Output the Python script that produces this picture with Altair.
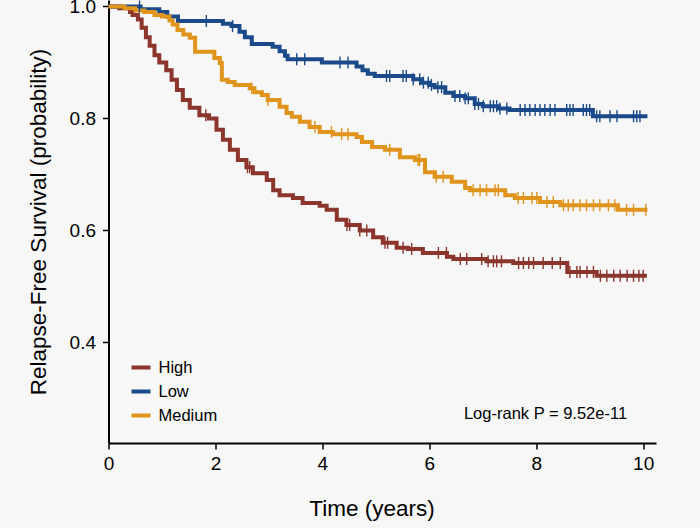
import altair as alt
import pandas as pd

groups = ["High", "Low", "Medium"]
colors = ["#8B352C", "#1B4A8B", "#E0941C"]

# Step functions (time in years, survival probability)
high_t = [0, 0.2, 0.4, 0.45, 0.55, 0.62, 0.7, 0.77, 0.86, 0.95, 1.08, 1.18, 1.28, 1.39, 1.52, 1.7, 1.88,
          2.02, 2.14, 2.27, 2.42, 2.58, 2.7, 2.96, 3.08, 3.2, 3.45, 3.63, 3.95, 4.08, 4.27, 4.45, 4.7,
          4.95, 5.13, 5.39, 5.6, 5.88, 6.33, 6.45, 7.07, 7.57, 8.58, 9.13, 10.07]
high_s = [1.0, 0.997, 0.99, 0.985, 0.977, 0.962, 0.945, 0.93, 0.913, 0.9, 0.886, 0.869, 0.851, 0.833, 0.819, 0.806, 0.8,
          0.78, 0.762, 0.744, 0.726, 0.713, 0.702, 0.69, 0.672, 0.663, 0.658, 0.649, 0.644, 0.637, 0.619, 0.61, 0.6,
          0.588, 0.578, 0.569, 0.567, 0.56, 0.553, 0.549, 0.545, 0.542, 0.526, 0.519, 0.519]

low_t = [0, 0.6, 0.95, 1.1, 1.3, 2.14, 2.3, 2.45, 2.55, 2.68, 3.07, 3.2, 3.3, 3.35, 3.99, 4.64, 4.75, 4.85,
         4.98, 5.7, 5.85, 6.0, 6.1, 6.3, 6.45, 6.67, 6.85, 7.0, 7.3, 7.5, 9.06, 10.08]
low_s = [1.0, 0.995, 0.99, 0.982, 0.974, 0.969, 0.965, 0.955, 0.945, 0.933, 0.928, 0.92, 0.912, 0.906, 0.9, 0.893, 0.886, 0.88,
         0.876, 0.87, 0.864, 0.86, 0.856, 0.846, 0.84, 0.836, 0.826, 0.822, 0.818, 0.815, 0.804, 0.804]

med_t = [0, 0.3, 0.5, 0.67, 0.86, 1.0, 1.14, 1.2, 1.29, 1.4, 1.52, 1.62, 1.98, 2.08, 2.12, 2.23, 2.36, 2.64,
         2.73, 2.87, 2.98, 3.2, 3.33, 3.43, 3.58, 3.76, 3.95, 4.2, 4.64, 4.74, 4.93, 5.17, 5.45, 5.73, 5.92,
         6.1, 6.42, 6.67, 6.76, 7.42, 7.6, 8.07, 8.45, 9.53, 10.08]
med_s = [1.0, 0.997, 0.993, 0.99, 0.985, 0.982, 0.975, 0.968, 0.958, 0.95, 0.944, 0.919, 0.908, 0.899, 0.869, 0.865, 0.86, 0.854,
         0.847, 0.842, 0.833, 0.821, 0.81, 0.803, 0.794, 0.785, 0.776, 0.772, 0.767, 0.758, 0.749, 0.744, 0.731, 0.726, 0.704,
         0.696, 0.687, 0.676, 0.672, 0.663, 0.658, 0.651, 0.645, 0.637, 0.637]

# Censoring times
high_c = [1.82, 2.6, 2.64, 4.46, 4.51, 4.7, 4.83, 5.17, 5.22, 5.51, 5.67, 6.17, 6.32, 6.58, 6.7, 6.98, 7.1, 7.2,
          7.26, 7.35, 7.67, 7.76, 7.86, 7.95, 8.13, 8.3, 8.45, 8.63, 8.76, 8.82, 8.95, 9.07, 9.2, 9.32, 9.45,
          9.57, 9.7, 9.82, 9.92, 10.0]
low_c = [0.58, 1.83, 2.32, 3.52, 3.67, 4.33, 4.48, 5.2, 5.26, 5.51, 5.57, 5.7, 5.82, 5.89, 5.98, 6.04, 6.16,
         6.23, 6.48, 6.57, 6.67, 6.73, 6.85, 6.92, 7.01, 7.14, 7.2, 7.26, 7.32, 7.45, 7.7, 7.79, 7.88, 7.98,
         8.07, 8.16, 8.26, 8.35, 8.57, 8.63, 8.69, 8.88, 8.94, 9.0, 9.13, 9.19, 9.38, 9.51, 9.82, 9.88, 9.94]
med_c = [2.11, 2.68, 2.98, 3.86, 4.17, 4.36, 4.48, 5.26, 5.79, 5.82, 6.13, 6.26, 6.82, 6.95, 7.07, 7.23, 7.29,
         7.66, 7.76, 7.92, 8.01, 8.2, 8.32, 8.51, 8.6, 8.69, 8.82, 8.94, 9.07, 9.19, 9.35, 9.47, 9.69, 9.82, 10.05]

annotation = "Log-rank P = 9.52e-11"
x_title = "Time (years)"
y_title = "Relapse-Free Survival (probability)"

series = {"High": (high_t, high_s, high_c), "Low": (low_t, low_s, low_c), "Medium": (med_t, med_s, med_c)}

line_rows, cens_rows = [], []
for g, (ts, ss, cs) in series.items():
    for t, s in zip(ts, ss):
        line_rows.append({"group": g, "time": t, "surv": s})
    for c in cs:
        s_at = ss[0]
        for t, s in zip(ts, ss):
            if t <= c:
                s_at = s
        cens_rows.append({"group": g, "time": c, "surv": s_at})

lines_df = pd.DataFrame(line_rows)
cens_df = pd.DataFrame(cens_rows)

FONT = "Liberation Sans"
xscale = alt.Scale(domain=[0, 10.24], nice=False, zero=False)
yscale = alt.Scale(domain=[0.2205, 1.0116], nice=False, zero=False)

x_enc = alt.X("time:Q", scale=xscale,
              axis=alt.Axis(title=x_title, values=[0, 2, 4, 6, 8, 10], format="d", grid=False,
                            titleX=263, titlePadding=24, labelPadding=5, labelFlush=False))
y_enc = alt.Y("surv:Q", scale=yscale,
              axis=alt.Axis(title=y_title, values=[0.4, 0.6, 0.8, 1.0], format=".1f", grid=False,
                            titlePadding=19, labelPadding=7, labelFlush=False))

lines = alt.Chart(lines_df).mark_line(interpolate="step-after", strokeWidth=4).encode(
    x=x_enc, y=y_enc,
    color=alt.Color("group:N", scale=alt.Scale(domain=groups, range=colors),
                    legend=alt.Legend(title=None, orient="none", legendX=21, legendY=356,
                                      symbolType="stroke", symbolSize=361, symbolStrokeWidth=4,
                                      labelFontSize=16.5, labelFont=FONT, rowPadding=4, labelOffset=6)),
)

censors = alt.Chart(cens_df).mark_point(shape="M0,-1L0,1", size=144, strokeWidth=1.4, filled=False, opacity=1).encode(
    x="time:Q", y="surv:Q",
    stroke=alt.Stroke("group:N", scale=alt.Scale(domain=groups, range=colors), legend=None),
)

text = alt.Chart(pd.DataFrame({"label": [annotation]})).mark_text(
    fontSize=16.5, font=FONT, align="center", baseline="middle", color="black"
).encode(x=alt.value(437), y=alt.value(414), text="label:N")

chart = alt.layer(lines, censors, text).properties(
    width=547.5, height=443,
    autosize=alt.AutoSizeParams(type="none"),
    padding={"left": 108.5, "top": 0, "right": 44, "bottom": 85},
    background="#F7F7F7",
).configure_view(stroke=None).configure_axis(
    domainColor="black", domainWidth=2, tickColor="black", tickWidth=1.5, tickSize=6,
    labelFont=FONT, labelFontSize=19, labelColor="black",
    titleFont=FONT, titleFontSize=22.5, titleFontWeight="normal", titleColor="black",
).configure_legend(labelColor="black")

chart.save("out.html", embed_options={"renderer": "svg", "actions": False})
